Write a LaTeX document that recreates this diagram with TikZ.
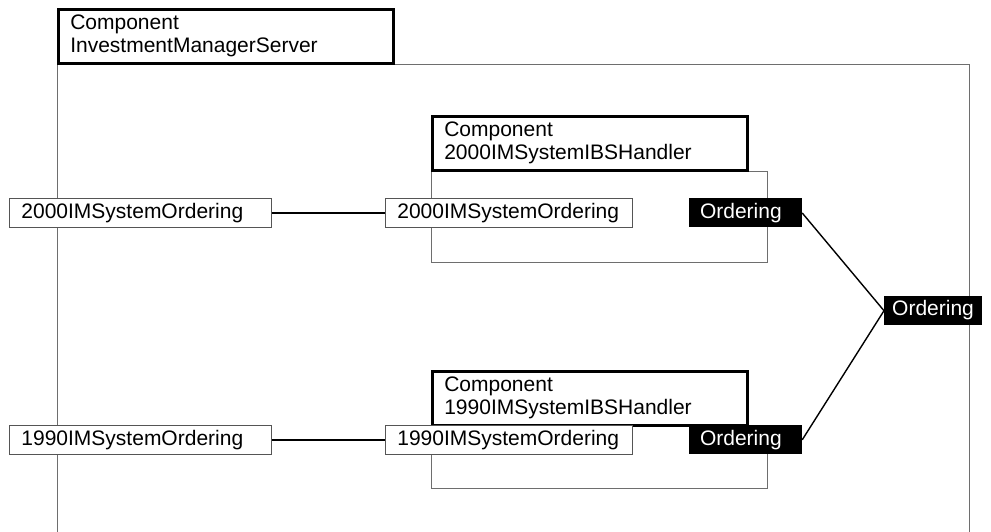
\documentclass[tikz,border=0pt]{standalone}
\usepackage{fontspec}
\setmainfont{Liberation Sans}
\usepackage{tikz}
\usetikzlibrary{positioning,backgrounds}
\definecolor{edgegray}{HTML}{555555}
\definecolor{framegray}{HTML}{6E6E6E}

\begin{document}
\begin{tikzpicture}[
    x=1pt,y=-1pt,
    txt/.style={font=\fontsize{21}{23}\selectfont},
    compbox/.style={txt,draw=black,line width=2.6pt,fill=white,anchor=north west,align=left,inner xsep=12pt,minimum height=54pt},
    portbox/.style={txt,draw=edgegray,line width=0.9pt,fill=white,align=left,inner xsep=12pt,inner ysep=0pt,text height=15pt,text depth=4.5pt,minimum height=29pt},
    ifacebox/.style={txt,fill=black,text=white,align=left,inner xsep=11pt,inner ysep=0pt,text height=15pt,text depth=4.5pt,minimum height=29pt},
    frame/.style={draw=framegray,line width=1pt},
    wire/.style={draw=black,line width=1.4pt}
]
\useasboundingbox (0,0) rectangle (991,531);

\node[compbox,text width=311pt] (ims) at (57,8) {Component\\InvestmentManagerServer};
\node[compbox,text width=291pt] (h2000) at (431,115) {Component\\2000IMSystemIBSHandler};
\node[compbox,text width=291pt] (h1990) at (431,370) {Component\\1990IMSystemIBSHandler};

\node[portbox,text width=238pt,anchor=north west] (lp2000) at (9,198) {2000IMSystemOrdering};
\node[portbox,text width=223pt,right=113pt of lp2000] (ip2000) {2000IMSystemOrdering};
\node[ifacebox,text width=91pt,right=56pt of ip2000] (if2000) {Ordering};

\node[portbox,text width=238pt,below=197pt of lp2000] (lp1990) {1990IMSystemOrdering};
\node[portbox,text width=223pt,right=113pt of lp1990] (ip1990) {1990IMSystemOrdering};
\node[ifacebox,text width=91pt,right=56pt of ip1990] (if1990) {Ordering};

\node[ifacebox,inner xsep=8pt,anchor=north west] (ord) at (884,296) {Ordering};

\begin{scope}[on background layer]
\draw[frame] (ims.south west) -- ++(0,469);
\draw[frame] (ims.south east) -- ++(575,0) -- ++(0,469);
\draw[frame] (h2000.south west) rectangle ++(336,91);
\draw[frame] (h1990.south west) rectangle ++(336,62);
\end{scope}

\draw[wire] (lp2000) -- (ip2000);
\draw[wire] (lp1990) -- (ip1990);
\draw[wire] (if2000.east) -- (ord.west);
\draw[wire] (if1990.east) -- (ord.west);
\end{tikzpicture}
\end{document}
